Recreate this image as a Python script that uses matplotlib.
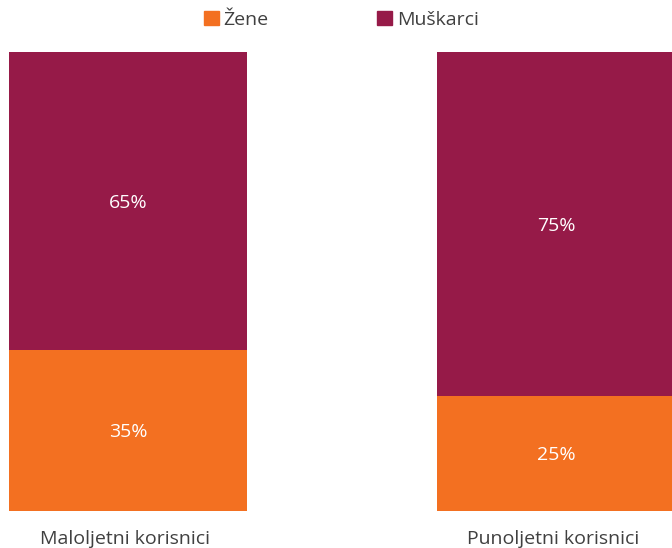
import matplotlib
matplotlib.use('Agg')
import matplotlib.pyplot as plt
from matplotlib.patches import Patch

plt.rcParams['font.family'] = ['Open Sans', 'DejaVu Sans']

categories = ['Maloljetni korisnici', 'Punoljetni korisnici']
zene = [35, 25]
muskarci = [65, 75]
series_names = ['Žene', 'Muškarci']

orange = '#F37021'
maroon = '#961A48'

fig = plt.figure(figsize=(6.72, 5.48), dpi=100)
ax = fig.add_axes([0, 37 / 548, 1, 459 / 548])

x = [0, 1]
width = 0.556
b1 = ax.bar(x, zene, width, color=orange)
b2 = ax.bar(x, muskarci, width, bottom=zene, color=maroon)

# percentage labels in the middle of each segment
for xi, z, m in zip(x, zene, muskarci):
    ax.text(xi, z / 2 - 0.3, f'{z}%', ha='center', va='center', color='white', fontsize=14)
    ax.text(xi, z + m / 2 - 0.3, f'{m}%', ha='center', va='center', color='white', fontsize=14)

ax.set_xlim(-0.299, 1.271)
ax.set_ylim(0, 100)
ax.axis('off')

for xi, cat in zip(x, categories):
    ax.text(xi - 0.006, -6.0, cat, ha='center', va='center', color='#404040', fontsize=14)

handles = [Patch(color=orange), Patch(color=maroon)]
fig.legend(handles, series_names, loc='center', bbox_to_anchor=(0.508, 1 - 20 / 548),
           ncol=2, frameon=False, fontsize=14, handlelength=0.75, handleheight=0.75,
           handletextpad=0.25, columnspacing=5.6, labelcolor='#404040')

plt.savefig('out.png', dpi=100)
